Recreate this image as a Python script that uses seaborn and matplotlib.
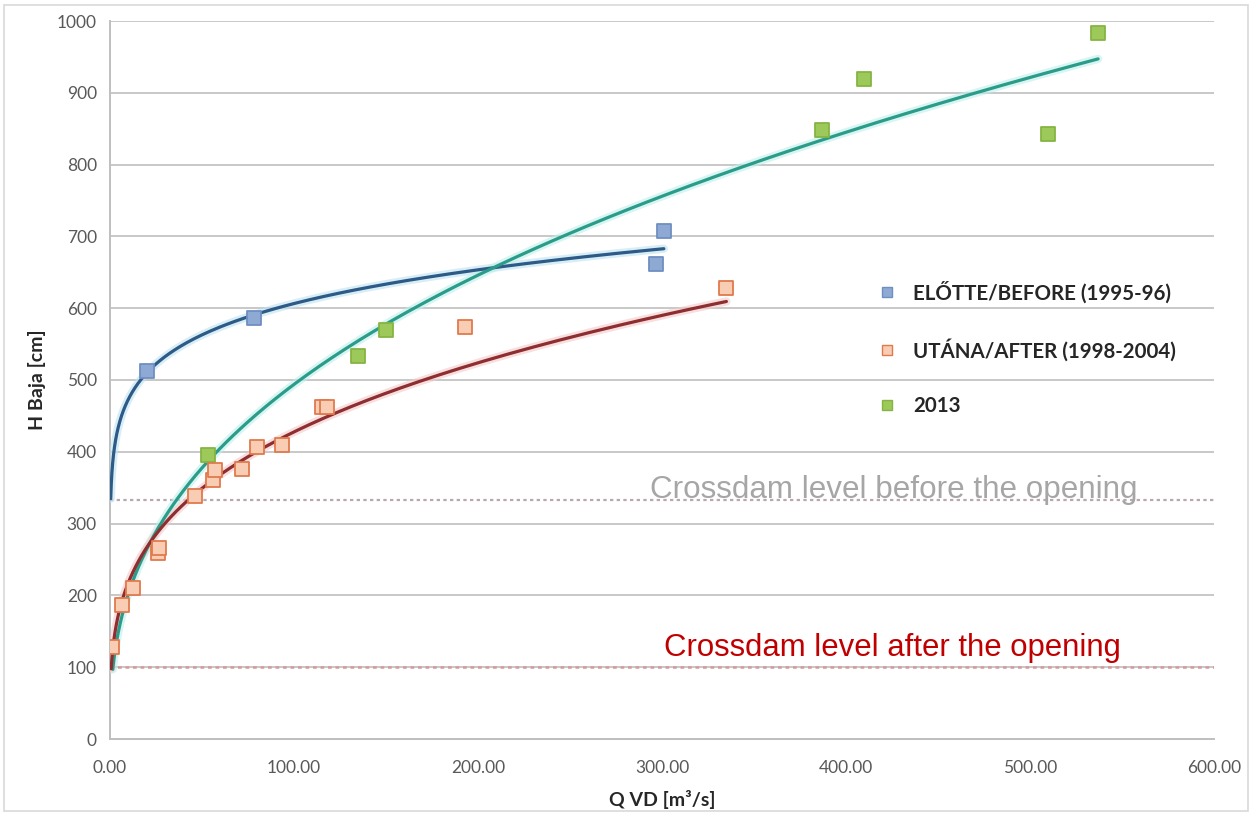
import numpy as np
import seaborn as sns
import matplotlib.pyplot as plt
from matplotlib.lines import Line2D
from matplotlib.patches import Rectangle

# Q VD [m3/s] vs H Baja [cm]
before_q = [20, 78, 297, 301]
before_h = [512, 586, 661, 707]

after_q = [1, 6.5, 12.5, 26, 26.5, 46, 56, 57, 72, 80, 93.5, 115, 118, 193, 335]
after_h = [128, 187, 210, 259, 266, 338, 361, 375, 376, 407, 409, 462, 462, 574, 628]

q_2013 = [53, 135, 150, 387, 410, 510, 537]
h_2013 = [395, 533, 570, 848, 919, 843, 983]

labels = ["ELŐTTE/BEFORE (1995-96)", "UTÁNA/AFTER (1998-2004)", "2013"]

crossdam_before = 333
crossdam_after = 100

sns.set_style("white")
plt.rcParams['font.family'] = ['Lato', 'DejaVu Sans']

fig = plt.figure(figsize=(12.57, 8.15), dpi=100)
ax = fig.add_axes([110 / 1257, 1 - 739 / 815, 1104 / 1257, 718 / 815])


def power_trend(q, h, start=0.5, n=300):
    # Excel-like power trendline, fitted in log-log space
    coef = np.polyfit(np.log(q), np.log(h), 1)
    xs = np.geomspace(start, max(q), n)
    return xs, np.exp(np.polyval(coef, np.log(xs)))


# crossdam levels
ax.plot([0, 600], [crossdam_before] * 2, ls=(0, (1.5, 1.5)), lw=1.6, color='#B9A9AC', zorder=2)
ax.plot([0, 600], [crossdam_after] * 2, ls=(0, (1.5, 1.5)), lw=1.8, color='#D59A9E', zorder=2)

ax.text(426, 347, "Crossdam level before the opening", fontsize=22.6, color='#A6A6A6',
        ha='center', va='center', family=['Liberation Sans', 'DejaVu Sans'])
ax.text(425, 127, "Crossdam level after the opening", fontsize=22.4, color='#C00000',
        ha='center', va='center', family=['Liberation Sans', 'DejaVu Sans'])

styles = [
    dict(q=before_q, h=before_h, face='#8DA9D4', edge='#6F8FC2', line='#2D5A86', halo='#BFE3F2', start=0.4),
    dict(q=q_2013, h=h_2013, face='#9CC95A', edge='#86B443', line='#2C9C8A', halo='#BDEFEA', start=1.5),
    dict(q=after_q, h=after_h, face='#F8CDB4', edge='#E07A4C', line='#8E2E30', halo='#F4C9C9', start=0.65),
]

for s in styles:
    xs, ys = power_trend(s['q'], s['h'], start=s['start'])
    ax.plot(xs, ys, color=s['halo'], lw=6, alpha=0.6, zorder=3, solid_capstyle='round')
    ax.plot(xs, ys, color=s['line'], lw=2.3, zorder=4)

for s in styles:
    sns.scatterplot(x=s['q'], y=s['h'], ax=ax, marker='s', s=100,
                    color=s['face'], edgecolor=s['edge'], linewidth=1.3, zorder=5)

ax.set_xlim(0, 600)
ax.set_ylim(0, 1000)
ax.set_xticks(range(0, 601, 100))
ax.set_xticklabels([f"{v:.2f}" for v in range(0, 601, 100)])
ax.set_yticks(range(0, 1001, 100))
ax.yaxis.grid(True, color='#C8C8C8', lw=1.4)
ax.xaxis.grid(False)
for side in ['top', 'right']:
    ax.spines[side].set_visible(False)
for side in ['left', 'bottom']:
    ax.spines[side].set_color('#BFBFBF')
    ax.spines[side].set_linewidth(1.4)
ax.tick_params(axis='both', colors='#BFBFBF', length=6, width=1.4, direction='out',
               labelcolor='#595959', labelsize=12.5)
ax.tick_params(axis='x', pad=9)

ax.set_xlabel("Q VD [m³/s]", fontsize=14, fontweight='bold', color='#262626', labelpad=10)
ax.set_ylabel("H Baja [cm]", fontsize=14, fontweight='bold', color='#262626', labelpad=8)

handles = [Line2D([], [], ls='none', marker='s', markersize=7.5,
                  markerfacecolor=s['face'], markeredgecolor=s['edge'])
           for s in [styles[0], styles[2], styles[1]]]
ax.legend(handles, labels, loc='upper left', bbox_to_anchor=(0.689, 0.652),
          frameon=False, borderpad=0, handlelength=0.6, handletextpad=0.95,
          labelspacing=1.7, prop=dict(family='Lato', weight='bold', size=14.8),
          labelcolor='#262626')

fig.patches.append(Rectangle((4 / 1257, 4 / 815), 1244 / 1257, 806 / 815, transform=fig.transFigure,
                             fill=False, edgecolor='#D9D9D9', lw=1.2))

fig.savefig("out.png", dpi=100)
